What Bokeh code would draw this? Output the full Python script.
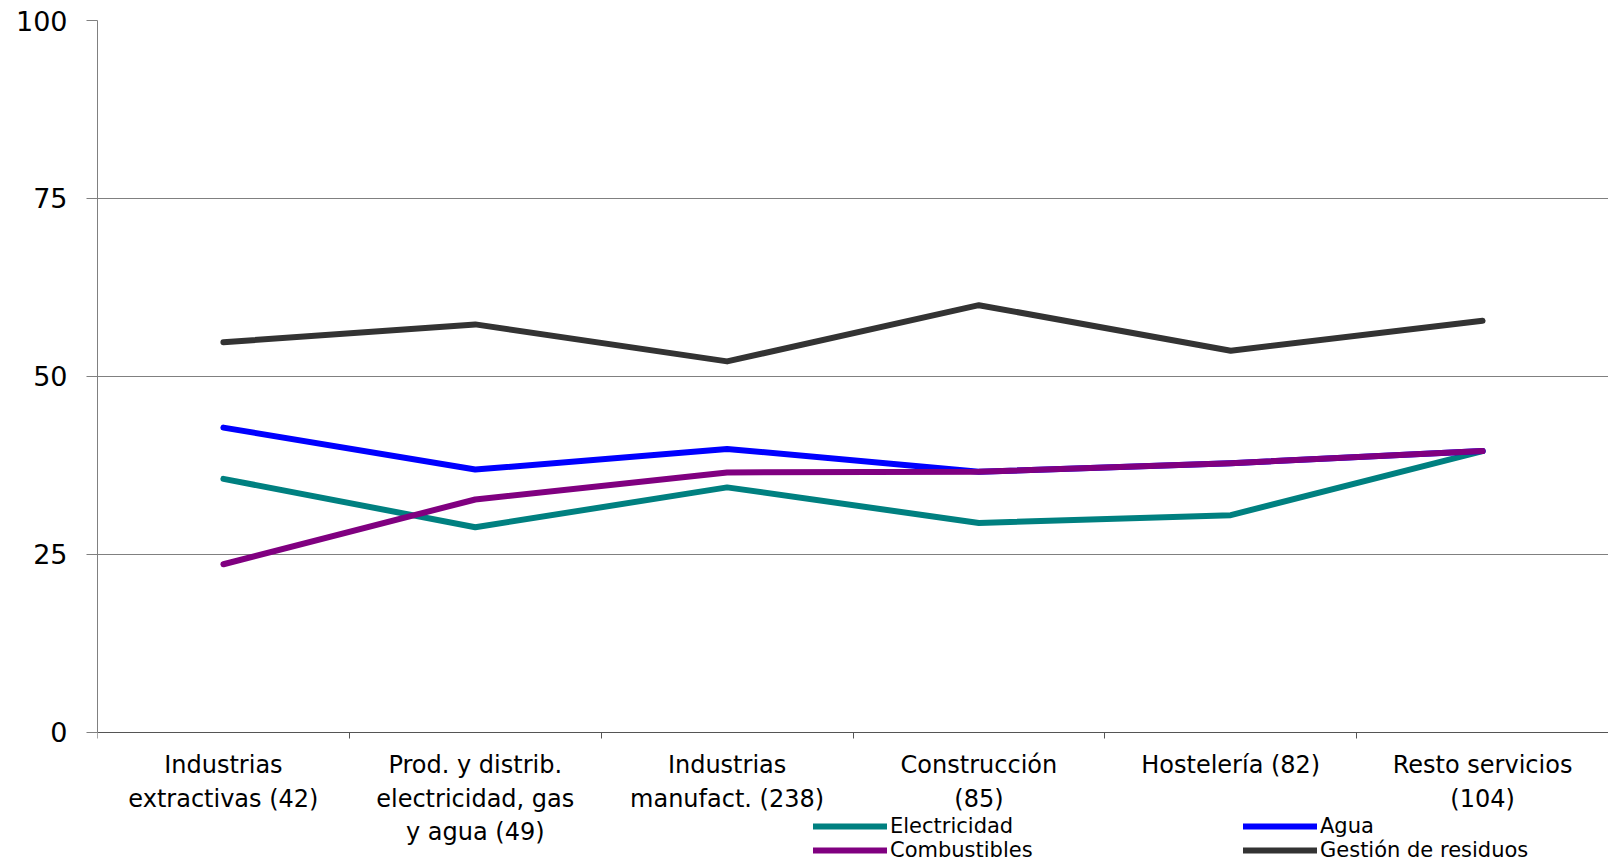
from bokeh.plotting import figure
from bokeh.models import Range1d, FixedTicker, Legend, LegendItem
from bokeh.embed import file_html
from bokeh.resources import INLINE

categories = [
    "Industrias\nextractivas (42)",
    "Prod. y distrib.\nelectricidad, gas\ny agua (49)",
    "Industrias\nmanufact. (238)",
    "Construcción\n(85)",
    "Hostelería (82)",
    "Resto servicios\n(104)",
]
electricidad = [35.6, 28.8, 34.4, 29.4, 30.5, 39.5]
agua = [42.8, 36.9, 39.8, 36.6, 37.8, 39.5]
combustibles = [23.6, 32.7, 36.5, 36.6, 37.8, 39.5]
gestion = [54.8, 57.3, 52.1, 60.0, 53.6, 57.8]
y_ticks = [0, 25, 50, 75, 100]

series = [
    ("Electricidad", electricidad, "#008080"),
    ("Agua", agua, "#0000FF"),
    ("Combustibles", combustibles, "#800080"),
    ("Gestión de residuos", gestion, "#333333"),
]

# layout (pixels)
W, H = 1608, 862
TOP, LEFT = 20, 97
PLOT_H = 711.7          # pixels from 0 to 100
frame_h = H - TOP
y_bottom = -100 * (frame_h - PLOT_H) / PLOT_H

n = len(categories)
xs = list(range(n))

p = figure(width=W, height=H, output_backend="svg", toolbar_location=None,
           x_range=Range1d(-0.5, n - 0.5), y_range=Range1d(y_bottom, 100),
           min_border_left=LEFT, min_border_right=0, min_border_top=TOP,
           min_border_bottom=0)
p.outline_line_color = None
p.background_fill_color = "white"
p.border_fill_color = "white"

renderers = {}
for name, vals, col in series:
    r = p.line(xs, vals, line_color=col, line_width=6, line_cap="round", line_join="round")
    renderers[name] = r

# y axis
p.yaxis.ticker = FixedTicker(ticks=y_ticks)
p.yaxis.bounds = (0, 100)
p.yaxis.axis_line_color = "#808080"
p.yaxis.major_tick_line_color = "#808080"
p.yaxis.major_tick_out = 11
p.yaxis.major_tick_in = 0
p.yaxis.minor_tick_line_color = None
p.yaxis.major_label_standoff = 19
p.yaxis.major_label_text_font = "DejaVu Sans"
p.yaxis.major_label_text_font_size = "27px"
p.yaxis.major_label_text_color = "black"

# x axis at y = 0
p.xaxis.fixed_location = 0
p.xaxis.ticker = FixedTicker(ticks=xs, minor_ticks=[i - 0.5 for i in range(n + 1)])
p.xaxis.major_label_overrides = {i: c for i, c in enumerate(categories)}
p.xaxis.major_tick_line_color = None
p.xaxis.major_tick_out = 0
p.xaxis.major_tick_in = 0
p.xaxis.minor_tick_line_color = "#555555"
p.xaxis.minor_tick_out = 6
p.xaxis.minor_tick_in = 0
p.xaxis.axis_line_color = "#555555"
p.xaxis.major_label_standoff = 13
p.xaxis.major_label_text_font = "DejaVu Sans"
p.xaxis.major_label_text_font_size = "24px"
p.xaxis.major_label_text_color = "black"
p.xaxis.major_label_orientation = "horizontal"

p.xgrid.grid_line_color = None
p.ygrid.ticker = FixedTicker(ticks=y_ticks[1:])
p.ygrid.grid_line_color = "#808080"
p.ygrid.grid_line_width = 1

def make_legend(names, loc):
    lg = Legend(items=[LegendItem(label=nm, renderers=[renderers[nm]]) for nm in names],
                location=loc, orientation="vertical")
    lg.padding = 0
    lg.margin = 0
    lg.border_line_color = None
    lg.background_fill_alpha = 0
    lg.glyph_width = 74
    lg.glyph_height = 20
    lg.label_height = 20
    lg.label_standoff = 3
    lg.spacing = 0
    lg.label_text_font = "DejaVu Sans"
    lg.label_text_font_size = "21px"
    lg.label_text_color = "black"
    lg.label_text_baseline = "middle"
    return lg

leg_bottom = 0
p.add_layout(make_legend(["Electricidad", "Combustibles"], (716, leg_bottom)))
p.add_layout(make_legend(["Agua", "Gestión de residuos"], (1146, leg_bottom)))

open("out.html", "w").write(file_html(p, INLINE))
